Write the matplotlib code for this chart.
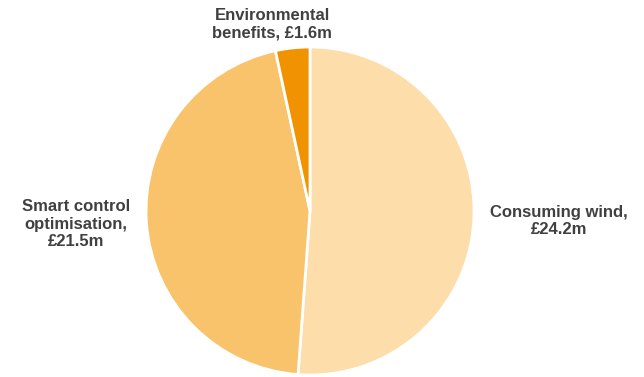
import matplotlib
matplotlib.use("Agg")
import matplotlib.pyplot as plt

labels = ["Consuming wind,\n£24.2m", "Smart control\noptimisation,\n£21.5m", "Environmental\nbenefits, £1.6m"]
values = [24.2, 21.5, 1.6]
colors = ["#FDDDA9", "#F9C36B", "#F19300"]

plt.rcParams["font.family"] = ["Liberation Sans", "DejaVu Sans"]

W, H = 644, 377
fig = plt.figure(figsize=(W / 100, H / 100), dpi=100)
cx, cy, r = 310, 211, 164
ax = fig.add_axes([(cx - r) / W, (H - cy - r) / H, 2 * r / W, 2 * r / H])
ax.pie(values, colors=colors, startangle=90, counterclock=False,
       wedgeprops=dict(edgecolor="white", linewidth=2))
ax.set_xlim(-1, 1)
ax.set_ylim(-1, 1)
ax.axis("off")

# label positions in pixels (centre x, centre y)
pos = [(559, 221), (76, 224), (272, 24)]
for lab, (x, y) in zip(labels, pos):
    fig.text(x / W, 1 - y / H, lab, ha="center", va="center", fontsize=12,
             fontweight="bold", color="#404040", linespacing=1.22)

fig.savefig("out.png", dpi=100)
